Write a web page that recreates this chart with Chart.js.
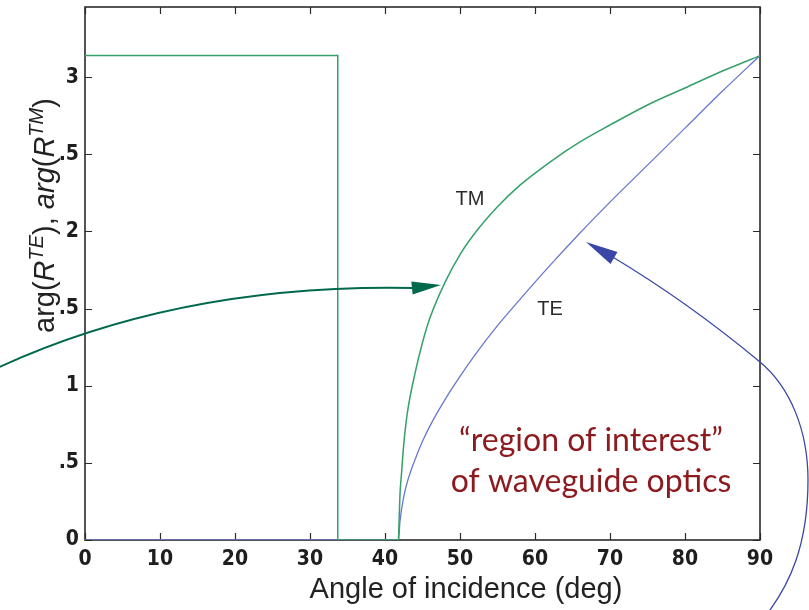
<!DOCTYPE html>
<html>
<head>
<meta charset="utf-8">
<script src="https://cdn.jsdelivr.net/npm/chart.js@4.4.1/dist/chart.umd.min.js"></script>
<style>
  html, body { margin: 0; padding: 0; background: #fff; }
</style>
</head>
<body>
<canvas id="phaseChart" width="809" height="610"></canvas>
<script>
// angle of incidence (deg) and reflection phase (rad)
// TM: flat at pi up to Brewster, zero until the critical angle, then rising
const tmStepAngle = [0, 33.7, 33.7, 41.8];
const tmStepPhase = [3.14, 3.14, 0, 0];
const tmAngle = [41.8, 42, 42.2, 42.5, 43, 44, 45, 46, 48, 50, 52, 55, 58, 62, 66, 70, 75, 80, 85, 90];
const tmPhase = [0, 0.30, 0.43, 0.62, 0.83, 1.08, 1.28, 1.44, 1.67, 1.85, 1.99, 2.16, 2.30, 2.45, 2.58, 2.69, 2.82, 2.93, 3.04, 3.14];
const teAngle = [0, 41.8, 42, 42.5, 43, 44, 45, 46, 48, 50, 52, 55, 58, 62, 66, 70, 75, 80, 85, 90];
const tePhase = [0, 0, 0.12, 0.28, 0.38, 0.52, 0.64, 0.74, 0.91, 1.06, 1.20, 1.39, 1.56, 1.78, 1.99, 2.19, 2.43, 2.67, 2.91, 3.14];
const yTickVals = [0, 0.5, 1, 1.5, 2, 2.5, 3];
const yTickLabels = ['0', '.5', '1', '.5', '2', '.5', '3'];
const curveNames = ['TM', 'TE'];

const tmColor = '#34a06a';
const teColor = '#6878cf';
const tickFont = "'Liberation Sans Narrow', 'DejaVu Sans Condensed', 'Liberation Sans', Arial, sans-serif";
const textFont = "'Liberation Sans', Arial, sans-serif";

function toPoints(xs, ys) {
    return xs.map((v, i) => ({ x: v, y: ys[i] }));
}

// box + inward tick marks, drawn under the curves
const frame = {
    id: 'frame',
    beforeDatasetsDraw(chart) {
        const { ctx, chartArea: a, scales: { x, y } } = chart;
        ctx.save();
        ctx.strokeStyle = '#2b2b2b';
        ctx.lineWidth = 1.2;
        ctx.beginPath();
        x.ticks.forEach(t => {
            const px = Math.round(x.getPixelForValue(t.value)) + 0.5;
            ctx.moveTo(px, a.bottom); ctx.lineTo(px, a.bottom - 7);
            ctx.moveTo(px, a.top); ctx.lineTo(px, a.top + 7);
        });
        y.ticks.forEach(t => {
            const py = Math.round(y.getPixelForValue(t.value)) + 0.5;
            ctx.moveTo(a.left, py); ctx.lineTo(a.left + 7, py);
            ctx.moveTo(a.right, py); ctx.lineTo(a.right - 7, py);
        });
        ctx.stroke();
        ctx.lineWidth = 1.6;
        ctx.strokeRect(a.left, a.top, a.right - a.left, a.bottom - a.top);
        ctx.restore();
    }
};

function arrowHead(ctx, tip, base, half, color) {
    const dx = tip[0] - base[0], dy = tip[1] - base[1];
    const len = Math.hypot(dx, dy);
    const nx = -dy / len * half, ny = dx / len * half;
    ctx.fillStyle = color;
    ctx.beginPath();
    ctx.moveTo(tip[0], tip[1]);
    ctx.lineTo(base[0] + nx, base[1] + ny);
    ctx.lineTo(base[0] - nx, base[1] - ny);
    ctx.closePath();
    ctx.fill();
}

// axis titles, curve names and the slide annotation
const annotations = {
    id: 'annotations',
    afterDraw(chart) {
        const { ctx } = chart;
        ctx.save();

        // x title
        ctx.fillStyle = '#222';
        ctx.font = '29px ' + textFont;
        ctx.textAlign = 'center';
        ctx.textBaseline = 'middle';
        ctx.fillText('Angle of incidence (deg)', 466, 590);

        // y title, rotated, with superscripts
        ctx.save();
        ctx.translate(54, 333);
        ctx.rotate(-Math.PI / 2);
        ctx.textAlign = 'left';
        ctx.textBaseline = 'alphabetic';
        const parts = [
            { t: 'arg(', it: false, sup: false },
            { t: 'R', it: true, sup: false },
            { t: 'TE', it: true, sup: true },
            { t: '), ', it: false, sup: false },
            { t: 'arg', it: true, sup: false },
            { t: '(', it: false, sup: false },
            { t: 'R', it: true, sup: false },
            { t: 'TM', it: true, sup: true },
            { t: ')', it: false, sup: false }
        ];
        let cx = 0;
        parts.forEach(p => {
            ctx.font = (p.it ? 'italic ' : '') + (p.sup ? '20px ' : '29px ') + textFont;
            ctx.fillText(p.t, cx, p.sup ? -11 : 0);
            cx += ctx.measureText(p.t).width;
        });
        ctx.restore();

        // curve names
        ctx.fillStyle = '#2a2a2a';
        ctx.font = '20px ' + textFont;
        ctx.textAlign = 'center';
        ctx.textBaseline = 'middle';
        ctx.fillText(curveNames[0], 470, 199);
        ctx.fillText(curveNames[1], 550, 309);

        // green arrow
        ctx.strokeStyle = '#00694b';
        ctx.lineWidth = 1.8;
        ctx.beginPath();
        ctx.moveTo(-5, 369);
        ctx.quadraticCurveTo(180, 283, 414, 288);
        ctx.stroke();
        arrowHead(ctx, [441, 285], [412, 288], 6.5, '#00694b');

        // blue arrow
        ctx.strokeStyle = '#3a47a6';
        ctx.lineWidth = 1.3;
        ctx.beginPath();
        ctx.moveTo(611, 256);
        ctx.quadraticCurveTo(688, 302, 760, 362);
        ctx.bezierCurveTo(790, 387, 808, 430, 808, 480);
        ctx.bezierCurveTo(808, 545, 790, 585, 764, 618);
        ctx.stroke();
        arrowHead(ctx, [586, 242], [614, 258], 7, '#3a47a6');

        // region note
        ctx.fillStyle = '#8c1a1e';
        ctx.font = '32px Lato, "Open Sans", sans-serif';
        ctx.textAlign = 'center';
        ctx.textBaseline = 'alphabetic';
        ctx.fillText('\u201cregion of interest\u201d', 591, 451);
        ctx.fillText('of waveguide optics', 591, 492);

        ctx.restore();
    }
};

new Chart(document.getElementById('phaseChart'), {
    type: 'line',
    data: {
        datasets: [
            {
                label: curveNames[0],
                data: toPoints(tmStepAngle, tmStepPhase),
                borderColor: tmColor,
                borderWidth: 1.5,
                pointRadius: 0,
                tension: 0
            },
            {
                label: curveNames[0],
                data: toPoints(tmAngle, tmPhase),
                borderColor: tmColor,
                borderWidth: 1.5,
                pointRadius: 0,
                cubicInterpolationMode: 'monotone'
            },
            {
                label: curveNames[1],
                data: toPoints(teAngle, tePhase),
                borderColor: teColor,
                borderWidth: 1.3,
                pointRadius: 0,
                cubicInterpolationMode: 'monotone'
            }
        ]
    },
    options: {
        responsive: false,
        animation: false,
        devicePixelRatio: 1,
        layout: { padding: { top: 7, right: 49, left: 0, bottom: 0 } },
        plugins: {
            legend: { display: false },
            tooltip: { enabled: false }
        },
        scales: {
            x: {
                type: 'linear',
                min: 0,
                max: 90,
                grid: { display: false, drawTicks: false },
                border: { display: false },
                ticks: {
                    stepSize: 10,
                    color: '#1e1e1e',
                    padding: 7,
                    maxRotation: 0,
                    font: { family: tickFont, size: 21, weight: 'bold' }
                },
                afterFit(scale) { scale.height = 70; }
            },
            y: {
                type: 'linear',
                min: 0,
                max: 3.455,
                grid: { display: false, drawTicks: false },
                border: { display: false },
                afterBuildTicks(scale) {
                    scale.ticks = yTickVals.map(v => ({ value: v }));
                },
                ticks: {
                    color: '#1e1e1e',
                    padding: 6,
                    font: { family: tickFont, size: 21, weight: 'bold' },
                    callback: (value, index) => yTickLabels[index]
                },
                afterFit(scale) {
                    scale.width = 85;
                    scale.paddingTop = 0;
                    scale.paddingBottom = 0;
                }
            }
        }
    },
    plugins: [frame, annotations]
});
</script>
</body>
</html>
